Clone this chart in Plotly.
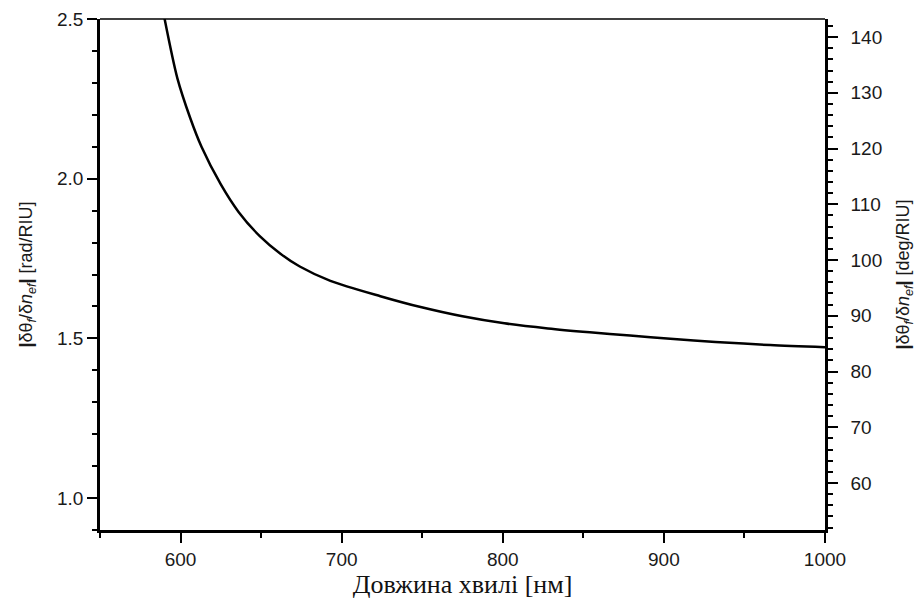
import math
import plotly.graph_objects as go

# Wavelength [nm]
wavelength = [590, 598, 606, 613, 625, 636, 649, 662, 674, 693, 724, 749,
              775, 801, 828, 854, 879, 904, 932, 966, 1000]
# Sensitivity |dθ/dn| [rad/RIU]
sens_rad = [2.503, 2.315, 2.190, 2.100, 1.982, 1.896, 1.821, 1.765, 1.725, 1.680,
            1.632, 1.598, 1.569, 1.547, 1.531, 1.519, 1.509, 1.499, 1.489, 1.479, 1.472]
sens_deg = [v * 180 / math.pi for v in sens_rad]

x_ticks = [600, 700, 800, 900, 1000]
y_left_ticks = [1.0, 1.5, 2.0, 2.5]
y_right_ticks = [60, 70, 80, 90, 100, 110, 120, 130, 140]

y_min, y_max = 0.9, 2.5

fig = go.Figure()
fig.add_trace(go.Scatter(x=wavelength, y=sens_rad, mode="lines",
                         line=dict(color="black", width=2.5, shape="spline", smoothing=0.8),
                         showlegend=False, hoverinfo="x+y"))
fig.add_trace(go.Scatter(x=wavelength, y=sens_deg, mode="lines", yaxis="y2",
                         line=dict(color="rgba(0,0,0,0)", width=0),
                         showlegend=False, hoverinfo="skip"))

tickfont = dict(family="Liberation Sans, Arial, sans-serif", size=19, color="#1a1a1a")
titlefont = dict(family="Liberation Sans, Arial, sans-serif", size=18, color="#1a1a1a")

fig.update_layout(
    width=919, height=605,
    margin=dict(l=100, r=94, t=19, b=75),
    paper_bgcolor="white", plot_bgcolor="white",
    xaxis=dict(
        range=[550, 1000], tickvals=x_ticks, ticks="outside", ticklen=10, tickwidth=2,
        tickcolor="black", showline=True, linecolor="black", linewidth=2.5,
        showgrid=False, zeroline=False, tickfont=tickfont, automargin=False,
        minor=dict(dtick=50, tick0=550, ticks="outside", ticklen=5, tickwidth=2, tickcolor="black", showgrid=False),
        title=dict(text="Довжина хвилі [нм]",
                   font=dict(family="Liberation Serif, Times New Roman, serif", size=26, color="#111"),
                   standoff=5),
    ),
    yaxis=dict(
        range=[y_min, y_max], tickvals=y_left_ticks, tickformat=".1f", ticks="outside",
        ticklen=10, tickwidth=2, tickcolor="black", showline=True, linecolor="black",
        linewidth=2.5, showgrid=False, zeroline=False, tickfont=tickfont, automargin=False,
        minor=dict(dtick=0.1, tick0=0.9, ticks="outside", ticklen=5, tickwidth=2, tickcolor="black", showgrid=False),
        title=dict(text="<b>|</b>δθ<sub><i>f</i></sub>/δ<i>n</i><sub><i>ef</i></sub><b>|</b> [rad/RIU]",
                   font=titlefont, standoff=20),
    ),
    yaxis2=dict(
        overlaying="y", side="right",
        range=[y_min * 180 / math.pi, y_max * 180 / math.pi], tickvals=y_right_ticks,
        ticks="outside", ticklen=10, tickwidth=2, tickcolor="black", showline=True,
        linecolor="black", linewidth=2.5, showgrid=False, zeroline=False, tickfont=tickfont,
        ticklabelstandoff=9, automargin=False,
        minor=dict(dtick=2, tick0=0, ticks="outside", ticklen=5, tickwidth=2, tickcolor="black", showgrid=False),
        title=dict(text="<b>|</b>δθ<sub><i>f</i></sub>/δ<i>n</i><sub><i>ef</i></sub><b>|</b> [deg/RIU]",
                   font=titlefont, standoff=16),
    ),
    shapes=[dict(type="line", xref="paper", yref="paper", x0=0, x1=1, y0=1, y1=1,
                 line=dict(color="black", width=1.5))],
)

fig.write_html("out.html")
